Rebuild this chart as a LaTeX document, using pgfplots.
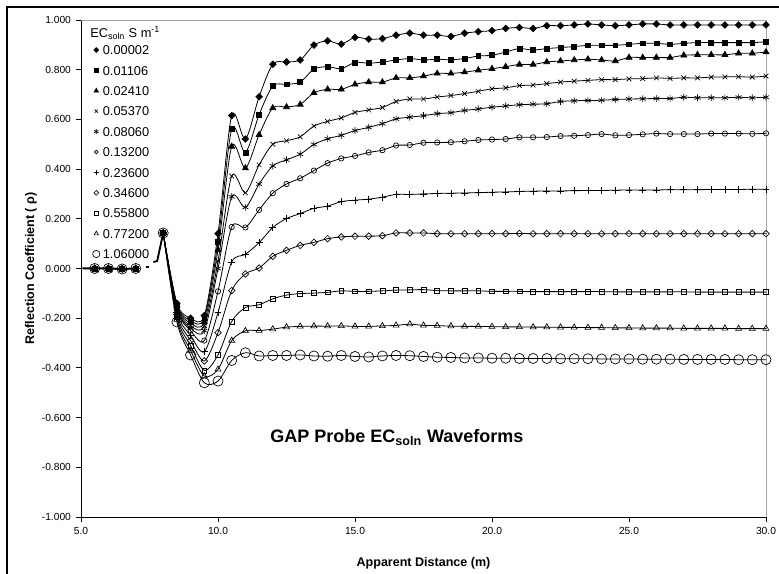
\documentclass[border=0pt]{standalone}
\usepackage{fontspec}
\setmainfont{Liberation Sans}
\usepackage{pgfplots}
\usepackage{pgfplotstable}
\pgfplotsset{compat=1.18}

% Reflection coefficient waveforms, one column per solution EC (S/m)
\pgfplotstableread{
x     s1     s2     s3     s4     s5     s6     s7     s8     s9     s10    s11
8.0   0.143  0.143  0.143  0.143  0.143  0.143  0.143  0.143  0.143  0.143  0.143
8.5  -0.140 -0.145 -0.150 -0.155 -0.160 -0.165 -0.175 -0.185 -0.195 -0.205 -0.215
9.0  -0.200 -0.210 -0.220 -0.230 -0.240 -0.250 -0.270 -0.290 -0.310 -0.330 -0.348
9.5  -0.190 -0.200 -0.215 -0.230 -0.250 -0.290 -0.335 -0.372 -0.410 -0.433 -0.460
10.0  0.140  0.107  0.075  0.030  0.000 -0.092 -0.177 -0.258 -0.348 -0.406 -0.453
10.5  0.615  0.561  0.491  0.372  0.289  0.167  0.026 -0.089 -0.213 -0.290 -0.370
11.0  0.521  0.467  0.404  0.305  0.246  0.165  0.057 -0.022 -0.157 -0.251 -0.339
11.5  0.691  0.619  0.538  0.417  0.340  0.236  0.104  0.002 -0.146 -0.250 -0.352
12.0  0.822  0.734  0.646  0.500  0.413  0.303  0.165  0.049 -0.122 -0.244 -0.350
12.5  0.831  0.741  0.650  0.514  0.437  0.340  0.201  0.073 -0.107 -0.236 -0.350
13.0  0.839  0.750  0.660  0.530  0.460  0.363  0.221  0.093 -0.101 -0.233 -0.348
13.5  0.899  0.802  0.707  0.573  0.499  0.394  0.242  0.105 -0.099 -0.232 -0.352
14.0  0.916  0.812  0.721  0.592  0.522  0.424  0.251  0.120 -0.096 -0.232 -0.353
14.5  0.903  0.804  0.721  0.606  0.536  0.443  0.269  0.127 -0.090 -0.231 -0.350
15.0  0.930  0.829  0.741  0.628  0.555  0.453  0.275  0.130 -0.092 -0.233 -0.354
15.5  0.923  0.826  0.750  0.638  0.568  0.467  0.279  0.130 -0.092 -0.233 -0.356
16.0  0.925  0.831  0.750  0.648  0.583  0.476  0.287  0.132 -0.090 -0.231 -0.352
16.5  0.939  0.839  0.767  0.672  0.602  0.495  0.298  0.143 -0.087 -0.229 -0.350
17.0  0.947  0.845  0.767  0.682  0.609  0.497  0.298  0.143 -0.086 -0.224 -0.351
17.5  0.939  0.839  0.774  0.682  0.615  0.506  0.300  0.143 -0.085 -0.229 -0.354
18.0  0.939  0.842  0.785  0.690  0.623  0.507  0.302  0.140 -0.089 -0.230 -0.357
18.5  0.934  0.840  0.785  0.696  0.627  0.508  0.303  0.140 -0.090 -0.232 -0.358
19.0  0.947  0.845  0.790  0.704  0.636  0.512  0.304  0.140 -0.090 -0.233 -0.360
19.5  0.953  0.855  0.798  0.713  0.642  0.517  0.305  0.140 -0.090 -0.233 -0.360
20.0  0.957  0.858  0.804  0.723  0.649  0.519  0.307  0.140 -0.092 -0.234 -0.361
20.5  0.966  0.871  0.812  0.727  0.654  0.521  0.308  0.140 -0.092 -0.235 -0.361
21.0  0.970  0.885  0.821  0.736  0.659  0.528  0.310  0.141 -0.092 -0.235 -0.362
21.5  0.966  0.879  0.821  0.738  0.661  0.528  0.311  0.140 -0.093 -0.236 -0.362
22.0  0.977  0.885  0.831  0.744  0.663  0.529  0.312  0.140 -0.093 -0.236 -0.362
22.5  0.977  0.889  0.835  0.750  0.672  0.533  0.312  0.140 -0.093 -0.237 -0.363
23.0  0.980  0.893  0.839  0.754  0.675  0.534  0.313  0.140 -0.093 -0.237 -0.363
23.5  0.984  0.898  0.842  0.757  0.676  0.537  0.314  0.140 -0.093 -0.238 -0.363
24.0  0.980  0.898  0.839  0.760  0.677  0.541  0.314  0.140 -0.093 -0.238 -0.364
24.5  0.977  0.898  0.835  0.760  0.680  0.536  0.315  0.140 -0.094 -0.239 -0.364
25.0  0.980  0.902  0.849  0.763  0.682  0.537  0.316  0.140 -0.094 -0.239 -0.364
25.5  0.984  0.906  0.849  0.764  0.683  0.540  0.316  0.140 -0.094 -0.240 -0.365
26.0  0.984  0.906  0.849  0.767  0.684  0.543  0.316  0.140 -0.094 -0.240 -0.365
26.5  0.980  0.902  0.849  0.765  0.684  0.541  0.317  0.140 -0.094 -0.240 -0.365
27.0  0.980  0.906  0.858  0.767  0.689  0.541  0.317  0.140 -0.094 -0.241 -0.366
27.5  0.980  0.909  0.860  0.767  0.687  0.541  0.317  0.140 -0.095 -0.241 -0.366
28.0  0.980  0.909  0.860  0.770  0.687  0.543  0.318  0.140 -0.095 -0.241 -0.366
28.5  0.980  0.909  0.860  0.771  0.687  0.543  0.318  0.140 -0.095 -0.241 -0.366
29.0  0.980  0.909  0.866  0.772  0.689  0.543  0.318  0.140 -0.095 -0.242 -0.367
29.5  0.980  0.909  0.866  0.770  0.687  0.542  0.319  0.140 -0.095 -0.242 -0.367
30.0  0.980  0.912  0.871  0.774  0.689  0.544  0.319  0.140 -0.095 -0.242 -0.367
}\waveforms

% Common lead-in before the probe head (identical for all solutions)
\pgfplotstableread{
x    y
5.5  0.000
6.0  0.000
6.5 -0.002
7.0  0.000
}\leadin

\pgfplotsset{
  wave/.style={black, line width=0.6pt, smooth},
  lead/.style={forget plot, only marks, black},
  mA/.style={mark=square*, mark size=1.75pt, mark options={solid, line width=0.5pt, rotate=45, fill=black}},
  mB/.style={mark=square*, mark size=1.85pt, mark options={solid, line width=0.5pt, fill=black}},
  mC/.style={mark=triangle*, mark size=2.6pt, mark options={solid, line width=0.5pt, fill=black}},
  mD/.style={mark=x, mark size=2.5pt, mark options={solid, line width=0.5pt}},
  mE/.style={mark=asterisk, mark size=2.6pt, mark options={solid, line width=0.5pt}},
  mF/.style={mark=o, mark size=2pt, mark options={solid, line width=0.5pt}},
  mG/.style={mark=+, mark size=2.6pt, mark options={solid, line width=0.5pt}},
  mH/.style={mark=square, mark size=1.75pt, mark options={solid, line width=0.5pt, rotate=45}},
  mI/.style={mark=square, mark size=1.85pt, mark options={solid, line width=0.5pt}},
  mJ/.style={mark=triangle, mark size=2.6pt, mark options={solid, line width=0.5pt}},
  mK/.style={mark=o, mark size=3.8pt, mark options={solid, line width=0.5pt}},
}

\begin{document}
\begin{tikzpicture}[x=0.75pt, y=0.75pt]
\useasboundingbox (0,0) rectangle (779,574);
\draw[line width=0.8pt] (7,-10) -- (7,567) -- (790,567);

\begin{axis}[
  at={(60.75pt,42.75pt)}, anchor=south west,
  scale only axis, width=513.75pt, height=372.75pt,
  xmin=5, xmax=30, ymin=-1, ymax=1,
  clip=false,
  axis x line*=bottom, axis y line*=left,
  axis line style={black, line width=0.6pt},
  xtick={5,10,15,20,25,30},
  ytick={-1,-0.8,-0.6,-0.4,-0.2,0,0.2,0.4,0.6,0.8,1},
  tick align=outside, major tick length=4pt,
  tick style={black, line width=0.6pt},
  /pgf/number format/assume math mode=true,
  tick label style={font=\fontsize{7.7}{9.2}\selectfont},
  xticklabel style={/pgf/number format/.cd, fixed, fixed zerofill, precision=1},
  yticklabel style={/pgf/number format/.cd, fixed, fixed zerofill, precision=3},
  xlabel={Apparent Distance (m)},
  ylabel={Reflection Coefficient ( ρ)},
  label style={font=\bfseries\fontsize{9.4}{11}\selectfont},
  xlabel style={at={(axis description cs:0.5,-0.0926)}, anchor=center},
  ylabel style={at={(axis description cs:-0.073,0.5)}, anchor=center},
  legend cell align=left,
  legend image code/.code={\draw[#1, every mark/.append style={scale=0.72}] plot[only marks] coordinates {(0pt,0pt)};},
  legend style={at={(rel axis cs:0.017,0.949)}, anchor=north west, draw=none, fill=none,
    inner sep=0pt, outer sep=0pt, row sep=8.3pt, column sep=2.2pt,
    font=\fontsize{9.6}{11}\selectfont,
    nodes={inner sep=0pt, text height=7pt, text depth=0pt}},
]
% plot area border (top and right)
\draw[gray!70, line width=0.6pt] (rel axis cs:0,1) -- (rel axis cs:1,1) -- (rel axis cs:1,0);

% shared lead-in line and probe-head hook
\addplot[forget plot, black, line width=1.5pt] coordinates {(5.05,0) (5.5,0) (6.0,0) (6.5,-0.002) (7.0,0) (7.08,0)};
\addplot[forget plot, black, line width=0.8pt] coordinates {(7.38,0.006) (7.48,0.006)};
\addplot[forget plot, black, line width=1.4pt] coordinates {(7.64,0.026) (7.78,0.03) (8.0,0.143)};

\addplot[lead, mA] table[x=x, y=y] {\leadin};
\addplot[lead, mB] table[x=x, y=y] {\leadin};
\addplot[lead, mC] table[x=x, y=y] {\leadin};
\addplot[lead, mD] table[x=x, y=y] {\leadin};
\addplot[lead, mE] table[x=x, y=y] {\leadin};
\addplot[lead, mF] table[x=x, y=y] {\leadin};
\addplot[lead, mG] table[x=x, y=y] {\leadin};
\addplot[lead, mH] table[x=x, y=y] {\leadin};
\addplot[lead, mI] table[x=x, y=y] {\leadin};
\addplot[lead, mJ] table[x=x, y=y] {\leadin};
\addplot[lead, mK] table[x=x, y=y] {\leadin};

\addplot[wave, mA] table[x=x, y=s1] {\waveforms};
\addlegendentry{0.00002}
\addplot[wave, mB] table[x=x, y=s2] {\waveforms};
\addlegendentry{0.01106}
\addplot[wave, mC] table[x=x, y=s3] {\waveforms};
\addlegendentry{0.02410}
\addplot[wave, mD] table[x=x, y=s4] {\waveforms};
\addlegendentry{0.05370}
\addplot[wave, mE] table[x=x, y=s5] {\waveforms};
\addlegendentry{0.08060}
\addplot[wave, mF] table[x=x, y=s6] {\waveforms};
\addlegendentry{0.13200}
\addplot[wave, mG] table[x=x, y=s7] {\waveforms};
\addlegendentry{0.23600}
\addplot[wave, mH] table[x=x, y=s8] {\waveforms};
\addlegendentry{0.34600}
\addplot[wave, mI] table[x=x, y=s9] {\waveforms};
\addlegendentry{0.55800}
\addplot[wave, mJ] table[x=x, y=s10] {\waveforms};
\addlegendentry{0.77200}
\addplot[wave, mK] table[x=x, y=s11] {\waveforms};
\addlegendentry{1.06000}

\node[font=\bfseries\fontsize{13.5}{16}\selectfont] at (axis cs:16.53,-0.68) {GAP Probe EC\textsubscript{soln} Waveforms};
\end{axis}

\node[anchor=west, inner sep=0pt, font=\fontsize{9.6}{11}\selectfont] at (90,541) {EC\textsubscript{soln} S m\textsuperscript{-1}};
\end{tikzpicture}
\end{document}
